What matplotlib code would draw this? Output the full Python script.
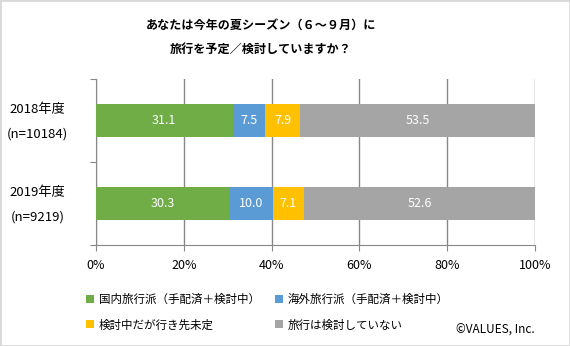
import matplotlib
matplotlib.use("Agg")
import matplotlib.pyplot as plt
from matplotlib.patches import Rectangle

plt.rcParams['font.family'] = ['Noto Sans CJK JP', 'DejaVu Sans']

#################################################
years = ["2018年度\n\n(n=10184)", "2019年度\n\n(n=9219)"]
series = ["国内旅行派（手配済＋検討中）", "海外旅行派（手配済＋検討中）",
          "検討中だが行き先未定", "旅行は検討していない"]
values = [
    [31.1, 30.3],
    [7.5, 10.0],
    [7.9, 7.1],
    [53.5, 52.6],
]
colors = ["#70AD47", "#5B9BD5", "#FFC000", "#A5A5A5"]
xticks = [0, 20, 40, 60, 80, 100]
title = "あなたは今年の夏シーズン（６～９月）に\n旅行を予定／検討していますか？"
#################################################

fig = plt.figure(figsize=(5.70, 3.46), dpi=100)
ax = fig.add_axes([96/570, 1 - 245/346, 439/570, 166/346])

ypos = [0.5, 1.5]
left = [0, 0]
for name, vals, col in zip(series, values, colors):
    ax.barh(ypos, vals, left=left, height=0.4, color=col, label=name, zorder=3)
    for y, l, v in zip(ypos, left, vals):
        ax.text(l + v / 2, y, f"{v:.1f}", color="white", ha="center", va="center",
                fontsize=9, zorder=4)
    left = [a + b for a, b in zip(left, vals)]

ax.set_xlim(0, 100)
ax.set_ylim(2, 0)
ax.set_xticks(xticks)
ax.set_xticklabels([f"{t}%" for t in xticks], fontsize=9)
ax.set_yticks([0, 1, 2])
ax.set_yticklabels([])
ax.set_yticks(ypos, minor=True)
ax.set_yticklabels(years, minor=True, fontsize=9.5, ha="center", linespacing=0.95)
ax.tick_params(axis="y", which="minor", length=0, pad=42)
ax.tick_params(axis="y", which="major", length=4, color="#888888")
ax.tick_params(axis="x", length=4, color="#888888", pad=6)
ax.grid(axis="x", color="#888888", linewidth=1, zorder=0)
for s in ["top", "right"]:
    ax.spines[s].set_visible(False)
for s in ["left", "bottom"]:
    ax.spines[s].set_color("#888888")

fig.text(261/570, 1 - 37/346, title, ha="center", va="center", fontsize=8.7,
         fontweight="bold", linespacing=2.1)

# legend fills column by column, so reorder to read row by row
handles, labels = ax.get_legend_handles_labels()
order = [0, 2, 1, 3]
fig.legend([handles[i] for i in order], [labels[i] for i in order],
           loc="upper left", bbox_to_anchor=(76/570, 1 - 283/346),
           ncol=2, frameon=False, fontsize=8.3, handlelength=0.7, handleheight=0.7,
           handletextpad=0.4, columnspacing=1.3, labelspacing=1.05)

fig.text(535/570, 1 - 330/346, "©VALUES, Inc.", ha="right", va="center", fontsize=8.5)

fig.patches.append(Rectangle((0, 0), 1, 1, transform=fig.transFigure, fill=False,
                             edgecolor="#D9D9D9", linewidth=2))

fig.savefig("out.png", dpi=100)
